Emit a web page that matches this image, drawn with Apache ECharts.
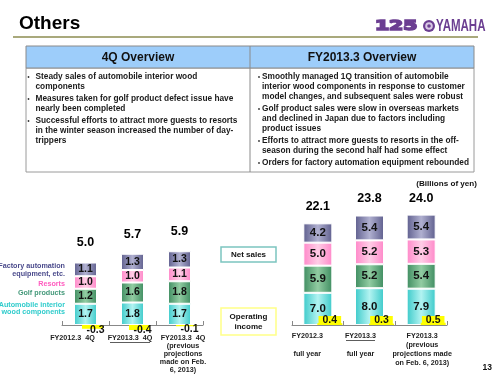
<!DOCTYPE html>
<html><head><meta charset="utf-8">
<script src="https://cdn.jsdelivr.net/npm/echarts@6/dist/echarts.min.js"></script>
<style>html,body{margin:0;padding:0;background:#fff}#c{width:500px;height:375px}</style>
</head><body><div id="c"></div>
<script>
// ---- data: 4Q chart ----
const quarterCats = ['FY2012.3  4Q', 'FY2013.3  4Q', 'FY2013.3  4Q\n(previous\nprojections\nmade on Feb.\n6, 2013)'];
const qAuto = [1.7, 1.8, 1.7];
const qGolf = [1.2, 1.6, 1.8];
const qResorts = [1.0, 1.0, 1.1];
const qFactory = [1.1, 1.3, 1.3];
const qTotals = [5.0, 5.7, 5.9];
const qOpIncome = [-0.3, -0.4, -0.1];
// ---- data: full-year chart ----
const yearCats = ['FY2012.3\n\nfull year', 'FY2013.3\n\nfull year', 'FY2013.3\n(previous\nprojections made\non Feb. 6, 2013)'];
const yAuto = [7.0, 8.0, 7.9];
const yGolf = [5.9, 5.2, 5.4];
const yResorts = [5.0, 5.2, 5.3];
const yFactory = [4.2, 5.4, 5.4];
const yTotals = [22.1, 23.8, 24.0];
const yOpIncome = [0.4, 0.3, 0.5];
// ---- text ----
const segmentNames = ['Automobile interior wood components', 'Golf products', 'Resorts', 'Factory automation equipment, etc.'];
const leftBullets = [
  'Steady sales of automobile interior wood\ncomponents',
  'Measures taken for golf product defect issue have\nnearly been completed',
  'Successful efforts to attract more guests to resorts\nin the winter season increased the number of day-\ntrippers'
];
const rightBullets = [
  'Smoothly managed 1Q transition of automobile\ninterior wood components in response to customer\nmodel changes, and subsequent sales were robust',
  'Golf product sales were slow in overseas markets\nand declined in Japan due to factors including\nproduct issues',
  'Efforts to attract more guests to resorts in the off-\nseason during the second half had some effect',
  'Orders for factory automation equipment rebounded'
];

const FF = '"Liberation Sans", Arial, sans-serif';
const palette = [
  ['#3ccaca', '#b2f3f1'],
  ['#3f8d61', '#92cca2'],
  ['#ff88c9', '#ffcde6'],
  ['#5f5f8e', '#b0b0d0']
];
function grad(p) {
  return new echarts.graphic.LinearGradient(0, 0, 1, 0, [
    {offset: 0, color: p[0]}, {offset: 0.5, color: p[1]}, {offset: 1, color: p[0]}
  ]);
}

function buildChart(xMain, xHidden, yIdx, sets, totals, op, opts) {
  const out = [];
  sets.forEach((vals, k) => {
    out.push({
      type: 'bar', name: segmentNames[k], xAxisIndex: xMain, yAxisIndex: yIdx, stack: 's' + xMain,
      barWidth: opts.barWidth, data: vals,
      itemStyle: {color: grad(palette[k]), borderColor: '#fff', borderWidth: 1},
      label: {show: true, position: 'inside', color: '#111', fontWeight: 'bold', fontFamily: FF,
        fontSize: opts.segFont, formatter: p => p.value.toFixed(1)},
      emphasis: {disabled: true}, silent: true
    });
  });
  out.push({
    type: 'bar', name: 'total', xAxisIndex: xMain, yAxisIndex: yIdx, stack: 's' + xMain,
    barWidth: opts.barWidth, data: totals.map(() => 0),
    itemStyle: {color: 'rgba(0,0,0,0)'},
    label: {show: true, position: 'top', distance: opts.totDist, color: '#000', fontWeight: 'bold',
      fontFamily: FF, fontSize: opts.totFont, formatter: p => totals[p.dataIndex].toFixed(1)},
    silent: true
  });
  out.push({
    type: 'bar', name: 'spacer', xAxisIndex: xHidden, yAxisIndex: yIdx, barWidth: opts.spacer, barGap: '0%',
    data: op.map(() => 0), itemStyle: {color: 'rgba(0,0,0,0)'}, silent: true
  });
  out.push({
    type: 'bar', name: 'Operating income', xAxisIndex: xHidden, yAxisIndex: yIdx, barWidth: opts.opWidth, barGap: '0%',
    data: op, itemStyle: {color: '#ffff00'}, silent: true, clip: false, z: 3,
    label: opts.opLabel
  });
  return out;
}

function catAxis(grid, data, shifts, fs, lh, margin) {
  const rich = {};
  shifts.forEach((s, i) => {
    rich['c' + i] = {fontSize: fs, fontWeight: 'bold', fontFamily: FF, color: '#222', lineHeight: lh,
      padding: s < 0 ? [0, -2 * s, 0, 0] : [0, 0, 0, 2 * s]};
  });
  return {
    type: 'category', gridIndex: grid, data: data,
    axisLine: {show: true, lineStyle: {color: '#888', width: 1}},
    axisTick: {show: true, inside: true, length: 4, lineStyle: {color: '#888'}},
    axisLabel: {interval: 0, margin: margin, verticalAlign: 'top', hideOverlap: false,
      formatter: (v, i) => v.split('\n').map(l => l === '' ? '{c' + i + '| }' : '{c' + i + '|' + l + '}').join('\n'),
      rich: rich}
  };
}
function hiddenAxis(grid, data) {
  return {type: 'category', gridIndex: grid, data: data, show: false};
}

const graphics = [];
// title
graphics.push({type: 'text', style: {text: 'Others', x: 19, y: 24, verticalAlign: 'middle', font: 'bold 19px ' + FF, fill: '#000'}});
graphics.push({type: 'line', shape: {x1: 13, y1: 37, x2: 478, y2: 37}, style: {stroke: '#a9a97c', lineWidth: 2}});
// logo
graphics.push({type: 'text', x: 375, y: 26.5, scaleX: 1.45, style: {text: '125', x: 0, y: 0, verticalAlign: 'middle', font: '900 14px "DejaVu Sans", sans-serif', fill: '#6b3e91', stroke: '#6b3e91', lineWidth: 1.6}});
graphics.push({type: 'circle', shape: {cx: 429, cy: 26, r: 6}, style: {fill: '#6b3e91'}});
graphics.push({type: 'circle', shape: {cx: 429, cy: 26, r: 3.8}, style: {fill: '#d8c8e4'}});
graphics.push({type: 'circle', shape: {cx: 429, cy: 26, r: 1.8}, style: {fill: '#6b3e91'}});
graphics.push({type: 'text', x: 436, y: 26.5, scaleX: 0.72, style: {text: 'YAMAHA', x: 0, y: 0, verticalAlign: 'middle', font: 'bold 16px ' + FF, fill: '#6b3e91'}});
// table
graphics.push({type: 'rect', shape: {x: 26, y: 68, width: 448, height: 104}, style: {fill: '#fff', stroke: '#9a9a9a', lineWidth: 1}});
graphics.push({type: 'rect', shape: {x: 26, y: 46, width: 448, height: 22}, style: {fill: '#9dcdfa', stroke: '#8a8a8a', lineWidth: 1}});
graphics.push({type: 'line', shape: {x1: 250, y1: 46, x2: 250, y2: 172}, style: {stroke: '#8a8a8a', lineWidth: 1}});
graphics.push({type: 'text', style: {text: '4Q Overview', x: 138, y: 57.5, align: 'center', verticalAlign: 'middle', font: 'bold 12px ' + FF, fill: '#111'}});
graphics.push({type: 'text', style: {text: 'FY2013.3 Overview', x: 362, y: 57.5, align: 'center', verticalAlign: 'middle', font: 'bold 12px ' + FF, fill: '#111'}});
function bullets(list, xb, xt) {
  let top = 72;
  list.forEach(t => {
    const n = t.split('\n').length;
    graphics.push({type: 'circle', shape: {cx: xb, cy: top + 5, r: 0.9}, style: {fill: '#333'}});
    graphics.push({type: 'text', style: {text: t, x: xt, y: top, verticalAlign: 'top', lineHeight: 10, font: 'bold 8.3px ' + FF, fill: '#1a1a1a'}});
    top += n * 10 + 2;
  });
}
bullets(leftBullets, 28.5, 35.5);
bullets(rightBullets, 259, 262);
graphics.push({type: 'text', style: {text: '(Billions of yen)', x: 477, y: 184, align: 'right', verticalAlign: 'middle', font: 'bold 8.1px ' + FF, fill: '#111'}});
// segment legend texts
const legendCols = ['#4b4b8c', '#ff5cbf', '#44997a', '#2fcccc'];
graphics.push({type: 'text', style: {text: 'Factory automation\nequipment, etc.', x: 65, y: 262, align: 'right', verticalAlign: 'top', lineHeight: 8, font: 'bold 7.2px ' + FF, fill: legendCols[0]}});
graphics.push({type: 'text', style: {text: 'Resorts', x: 65, y: 284, align: 'right', verticalAlign: 'middle', font: 'bold 7.2px ' + FF, fill: legendCols[1]}});
graphics.push({type: 'text', style: {text: 'Golf products', x: 65, y: 293.5, align: 'right', verticalAlign: 'middle', font: 'bold 7.2px ' + FF, fill: legendCols[2]}});
graphics.push({type: 'text', style: {text: 'Automobile interior\nwood components', x: 65, y: 301.5, align: 'right', verticalAlign: 'top', lineHeight: 7, font: 'bold 7.2px ' + FF, fill: legendCols[3]}});
// boxes
graphics.push({type: 'rect', shape: {x: 221, y: 247, width: 55, height: 15}, style: {fill: '#fff', stroke: '#7cc5c0', lineWidth: 1.5}});
graphics.push({type: 'text', style: {text: 'Net sales', x: 248.5, y: 254.5, align: 'center', verticalAlign: 'middle', font: 'bold 8px ' + FF, fill: '#111'}});
graphics.push({type: 'rect', shape: {x: 221, y: 308, width: 55, height: 27}, style: {fill: '#fff', stroke: '#ffff88', lineWidth: 1.5}});
graphics.push({type: 'text', style: {text: 'Operating\nincome', x: 248.5, y: 321.5, align: 'center', verticalAlign: 'middle', lineHeight: 10, font: 'bold 8px ' + FF, fill: '#111'}});
// underlines for current-year categories
graphics.push({type: 'line', shape: {x1: 110, y1: 342.5, x2: 150, y2: 342.5}, style: {stroke: '#333', lineWidth: 0.8}});
graphics.push({type: 'line', shape: {x1: 346, y1: 340.5, x2: 375, y2: 340.5}, style: {stroke: '#333', lineWidth: 0.8}});
// page number
graphics.push({type: 'text', style: {text: '13', x: 492, y: 368, align: 'right', verticalAlign: 'middle', font: 'bold 8.5px ' + FF, fill: '#111'}});

const series = [].concat(
  buildChart(0, 1, 0, [qAuto, qGolf, qResorts, qFactory], qTotals, qOpIncome, {
    barWidth: 23, segFont: 10.5, totFont: 12.5, totDist: 13, spacer: 14, opWidth: 21,
    opLabel: {show: true, position: 'inside', offset: [3, 3], color: '#111', fontWeight: 'bold', fontFamily: FF, fontSize: 10.5,
      formatter: p => p.value.toFixed(1)}
  }),
  buildChart(2, 3, 1, [yAuto, yGolf, yResorts, yFactory], yTotals, yOpIncome, {
    barWidth: 29, segFont: 11.5, totFont: 12.5, totDist: 10, spacer: 24, opWidth: 25,
    opLabel: {show: true, position: 'insideBottom', distance: 0, color: '#111', fontWeight: 'bold', fontFamily: FF, fontSize: 10.5,
      backgroundColor: '#ffff00', padding: [0, 4, 0, 4], lineHeight: 9, formatter: p => p.value.toFixed(1)}
  })
);

const chart = echarts.init(document.getElementById('c'), null, {renderer: 'canvas'});
chart.setOption({
  animation: false,
  backgroundColor: '#fff',
  textStyle: {fontFamily: FF},
  grid: [
    {left: 62, width: 141, top: 200, height: 125, containLabel: false, outerBoundsMode: 'none'},
    {left: 292, width: 155, top: 210, height: 115, containLabel: false, outerBoundsMode: 'none'}
  ],
  xAxis: [
    catAxis(0, quarterCats, [-13, -2.5, 3.5], 7.2, 8, 9),
    hiddenAxis(0, quarterCats),
    catAxis(1, yearCats, [-10.5, -9, 1], 7.2, 9, 7),
    hiddenAxis(1, yearCats)
  ],
  yAxis: [
    {type: 'value', gridIndex: 0, min: 0, max: 10, show: false},
    {type: 'value', gridIndex: 1, min: 0, max: 25, show: false}
  ],
  series: series,
  graphic: graphics
});
</script>
</body></html>
